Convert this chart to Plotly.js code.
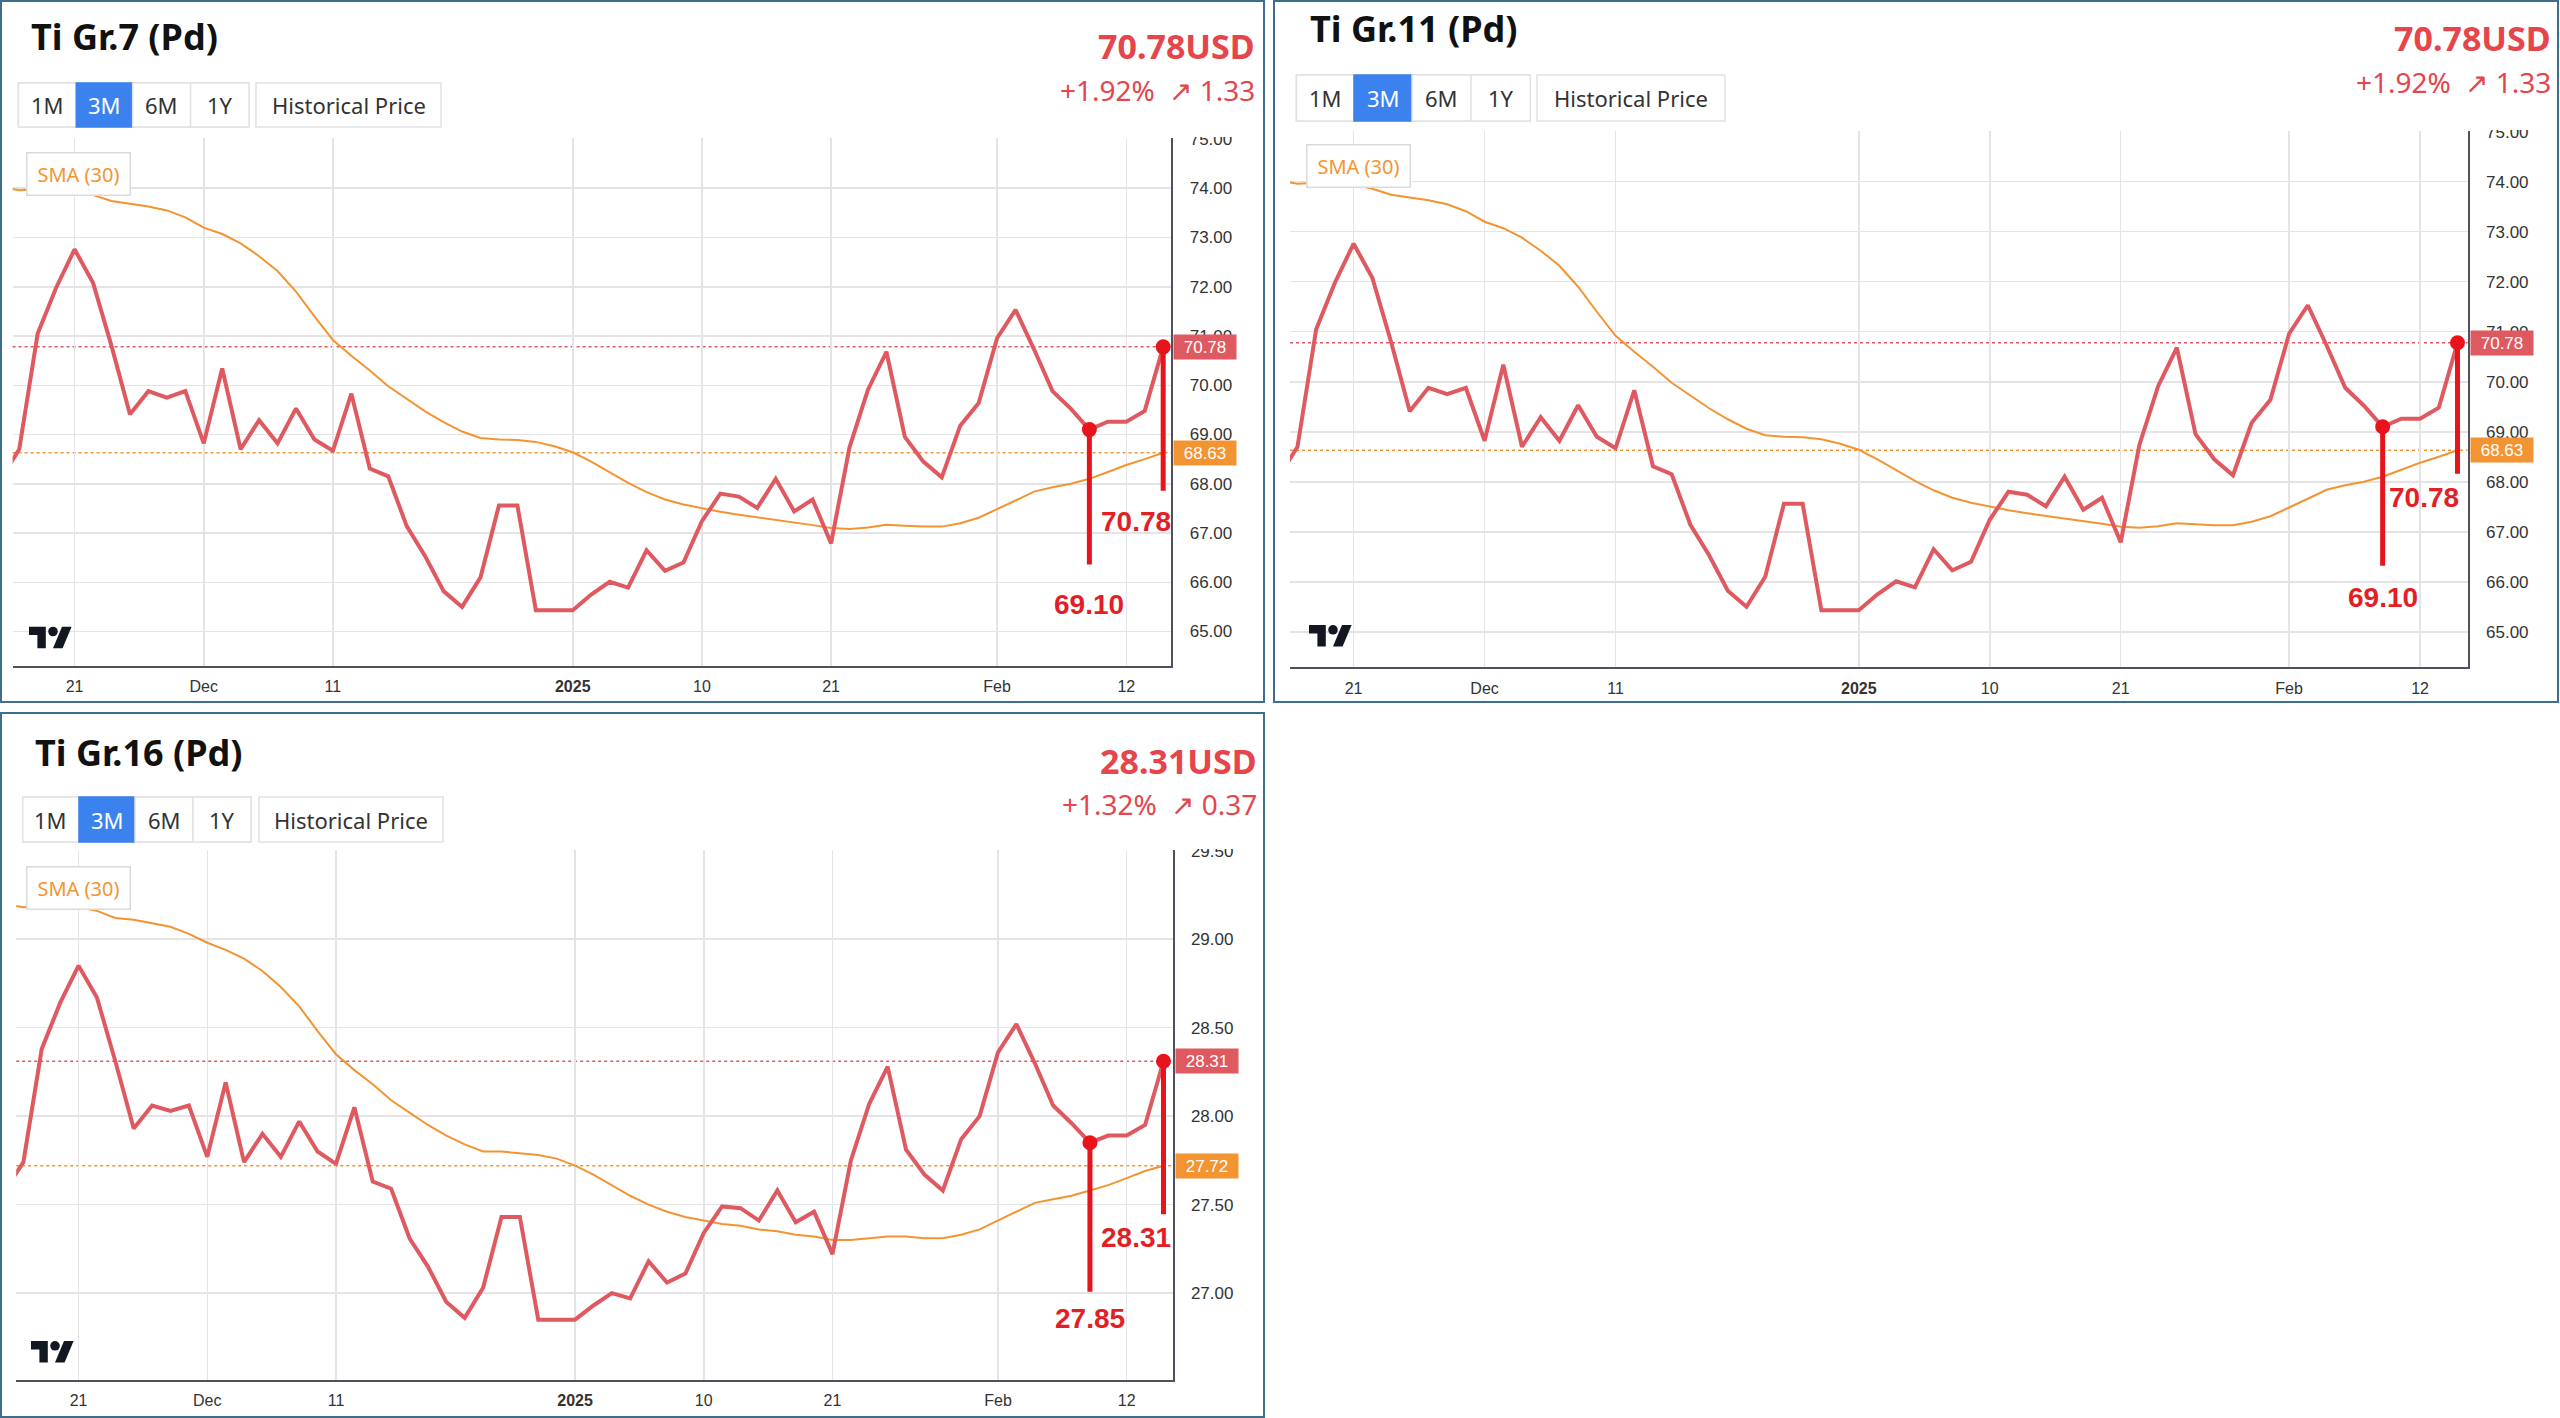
<!DOCTYPE html>
<html>
<head>
<meta charset="utf-8">
<script src="https://cdn.plot.ly/plotly-3.0.1.min.js"></script>
<style>
html,body{margin:0;padding:0;background:#ffffff;}
#chart{width:2560px;height:1418px;}
</style>
</head>
<body>
<div id="chart"></div>
<script>
// ---------------- DATA ----------------
const dates = ['Nov 15','Nov 18','Nov 19','Nov 20','Nov 21','Nov 22','Nov 25','Nov 26','Nov 27','Nov 28','Nov 29',
  'Dec 2','Dec 3','Dec 4','Dec 5','Dec 6','Dec 9','Dec 10','Dec 11','Dec 12','Dec 13','Dec 16','Dec 17','Dec 18','Dec 19','Dec 20','Dec 23','Dec 26','Dec 27','Dec 30','Dec 31',
  'Jan 1','Jan 2','Jan 3','Jan 6','Jan 7','Jan 8','Jan 9','Jan 10','Jan 13','Jan 14','Jan 15','Jan 16','Jan 17','Jan 20','Jan 21','Jan 22','Jan 23','Jan 24','Jan 27','Jan 28','Jan 29','Jan 30','Jan 31',
  'Feb 3','Feb 4','Feb 5','Feb 6','Feb 7','Feb 10','Feb 11','Feb 12','Feb 13','Feb 14'];

const tickDates  = ['Nov 21','Dec 2','Dec 11','Jan 1','Jan 10','Jan 21','Feb 3','Feb 12'];
const tickLabels = ['21','Dec','11','<b>2025</b>','10','21','Feb','12'];
const markDates  = ['Feb 10','Feb 14'];

const titles = ['Ti Gr.7 (Pd)','Ti Gr.11 (Pd)','Ti Gr.16 (Pd)'];
const changePct = [1.92, 1.92, 1.32];
const changeAbs = [1.33, 1.33, 0.37];
const smaLabel = 'SMA (30)';
const rangeButtons = ['1M','3M','6M','1Y'];
const historyButton = 'Historical Price';

const gr7Price = [68.10,68.70,71.05,71.98,72.76,72.08,70.80,69.41,69.88,69.75,69.88,68.82,70.34,68.70,69.29,68.82,69.53,68.90,68.67,69.83,
  68.31,68.15,67.14,66.53,65.82,65.50,66.10,67.56,67.56,65.43,65.43,65.43,65.75,66.01,65.89,66.65,66.23,66.40,67.24,67.80,
  67.74,67.51,68.10,67.44,67.68,66.79,68.74,69.91,70.68,68.95,68.45,68.13,69.18,69.64,70.96,71.53,70.73,69.88,69.52,69.10,
  69.26,69.26,69.48,70.78];
const gr7Sma = [74.02,73.96,73.98,73.98,73.95,73.86,73.74,73.68,73.63,73.55,73.41,73.20,73.07,72.88,72.62,72.32,71.90,71.40,70.92,70.60,
  70.30,69.98,69.72,69.47,69.25,69.06,68.93,68.90,68.89,68.85,68.76,68.64,68.45,68.24,68.02,67.83,67.68,67.58,67.50,67.43,
  67.37,67.32,67.27,67.21,67.16,67.10,67.08,67.11,67.17,67.15,67.13,67.13,67.20,67.31,67.48,67.66,67.84,67.93,68.00,68.10,
  68.24,68.38,68.50,68.63];

const gr11Price = [68.10,68.70,71.05,71.98,72.76,72.08,70.80,69.41,69.88,69.75,69.88,68.82,70.34,68.70,69.29,68.82,69.53,68.90,68.67,69.83,
  68.31,68.15,67.14,66.53,65.82,65.50,66.10,67.56,67.56,65.43,65.43,65.43,65.75,66.01,65.89,66.65,66.23,66.40,67.24,67.80,
  67.74,67.51,68.10,67.44,67.68,66.79,68.74,69.91,70.68,68.95,68.45,68.13,69.18,69.64,70.96,71.53,70.73,69.88,69.52,69.10,
  69.26,69.26,69.48,70.78];
const gr11Sma = [74.02,73.96,73.98,73.98,73.95,73.86,73.74,73.68,73.63,73.55,73.41,73.20,73.07,72.88,72.62,72.32,71.90,71.40,70.92,70.60,
  70.30,69.98,69.72,69.47,69.25,69.06,68.93,68.90,68.89,68.85,68.76,68.64,68.45,68.24,68.02,67.83,67.68,67.58,67.50,67.43,
  67.37,67.32,67.27,67.21,67.16,67.10,67.08,67.11,67.17,67.15,67.13,67.13,67.20,67.31,67.48,67.66,67.84,67.93,68.00,68.10,
  68.24,68.38,68.50,68.63];

const gr16Price = [27.58,27.74,28.38,28.64,28.85,28.67,28.31,27.93,28.06,28.03,28.06,27.77,28.19,27.74,27.90,27.77,27.97,27.80,27.73,28.05,
  27.63,27.59,27.31,27.15,26.95,26.86,27.03,27.43,27.43,26.85,26.85,26.85,26.93,27.00,26.97,27.18,27.06,27.11,27.34,27.49,
  27.48,27.41,27.58,27.40,27.46,27.22,27.75,28.07,28.28,27.81,27.67,27.58,27.87,28.00,28.36,28.52,28.30,28.06,27.96,27.85,
  27.89,27.89,27.95,28.31];
const gr16Sma = [29.20,29.18,29.19,29.19,29.18,29.16,29.12,29.11,29.09,29.07,29.03,28.98,28.94,28.89,28.82,28.73,28.62,28.48,28.35,28.26,
  28.18,28.09,28.02,27.95,27.89,27.84,27.80,27.80,27.79,27.78,27.76,27.72,27.67,27.61,27.55,27.50,27.46,27.43,27.41,27.39,
  27.38,27.36,27.35,27.33,27.32,27.30,27.30,27.31,27.32,27.32,27.31,27.31,27.33,27.36,27.41,27.46,27.51,27.53,27.55,27.58,
  27.61,27.65,27.69,27.72];

const prices = [gr7Price, gr11Price, gr16Price];
const smas = [gr7Sma, gr11Sma, gr16Sma];

// ---------------- LAYOUT (pixel geometry of each panel) ----------------
const W = 2560, H = 1418;
const px = v => v / W;
const py = v => 1 - v / H;

const geo = [
  { box:[1,1,1264,702], title:[29,37], btnTop:83, btnBot:127, btnEdges:[18.4,76.3,132.7,190.6,249], hp:[256,441],
    price:[1257,46], change:[1257,90], plot:{l:12.6,r:1171.3,t:138,b:666}, xr:[0.64,63.44], yr:[64.30,75.02], dtick:1,
    sma:[26,152], logo:[29,626.7], lineLen:[135,144], textOff:[175,175], textShift:[0,10], cut:137 },
  { box:[1274,1,2558,702], title:[1308,29], btnTop:75, btnBot:121, btnEdges:[1296.4,1354,1412,1471,1530.3], hp:[1537,1725],
    price:[2553,38], change:[2553,82], plot:{l:1290,r:2467.6,t:131,b:667.3}, xr:[0.6,63.54], yr:[64.29,75.014], dtick:1,
    sma:[1306,144], logo:[1309,625], lineLen:[139,131], textOff:[171,155], textShift:[0,3], cut:130 },
  { box:[1,713,1264,1417], title:[32.5,753], btnTop:797, btnBot:842, btnEdges:[22.7,79,135,193,251], hp:[259,443],
    price:[1259,761], change:[1259,804], plot:{l:16.2,r:1172.5,t:850,b:1379.8}, xr:[0.61,63.49], yr:[26.51,29.504], dtick:0.5,
    sma:[26,866], logo:[31,1341], lineLen:[149,153], textOff:[176,176], textShift:[0,10], cut:849 }
];

const RED_LINE = '#df5a60', ORANGE = '#f39433', MARK = '#e8141b', PRICE_RED = '#e5454b';
const GRID = '#e4e4e6', AXIS = '#4f525c', BORDER = '#3d6f8c', BLUE = '#3b82ef';

const data = [];
const shapes = [];
const annotations = [];
const layout = {
  width: W, height: H, margin:{l:0,r:0,t:0,b:0},
  paper_bgcolor:'#ffffff', plot_bgcolor:'rgba(0,0,0,0)',
  showlegend:false, font:{family:'Noto Sans', color:'#222'},
  shapes: shapes, annotations: annotations
};

function rect(x0,y0,x1,y1,opt){
  return Object.assign({type:'rect', xref:'paper', yref:'paper', x0:px(x0), x1:px(x1), y0:py(y1), y1:py(y0)}, opt);
}
function txt(text, x, y, opt){
  return Object.assign({text:text, xref:'paper', yref:'paper', x:px(x), y:py(y), showarrow:false, yanchor:'middle'}, opt);
}

geo.forEach((g,k) => {
  const s = k === 0 ? '' : String(k+1);
  const xa = 'x'+s, ya = 'y'+s;
  const price = prices[k], sma = smas[k];
  const last = price[price.length-1];
  const smaLast = sma[sma.length-1];
  const markIdx = markDates.map(d => dates.indexOf(d));

  // traces
  data.push({type:'scatter', x:dates, y:sma, mode:'lines', line:{color:ORANGE, width:2}, xaxis:xa, yaxis:ya, hoverinfo:'skip'});
  data.push({type:'scatter', x:dates, y:price, mode:'lines', line:{color:RED_LINE, width:4}, xaxis:xa, yaxis:ya, hoverinfo:'skip'});
  data.push({type:'scatter', x:markDates, y:markIdx.map(i=>price[i]), mode:'markers', marker:{size:15, color:MARK}, xaxis:xa, yaxis:ya, hoverinfo:'skip'});

  // axes
  layout['xaxis'+s] = {
    domain:[px(g.plot.l), px(g.plot.r)], anchor:ya, type:'category', range:g.xr,
    tickmode:'array', tickvals:tickDates, ticktext:tickLabels,
    showgrid:true, gridcolor:GRID, gridwidth:1.5, showline:true, linecolor:AXIS, linewidth:2,
    ticks:'', ticklabelstandoff:5, tickfont:{family:'Liberation Sans', size:16, color:'#333'},
    zeroline:false, fixedrange:true
  };
  layout['yaxis'+s] = {
    domain:[py(g.plot.b), py(g.plot.t)], anchor:xa, side:'right', range:g.yr,
    tick0:0, dtick:g.dtick, tickformat:'.2f',
    showgrid:true, gridcolor:GRID, gridwidth:1.5, showline:true, linecolor:AXIS, linewidth:2,
    ticks:'', ticklabelstandoff:13, tickfont:{family:'Liberation Sans', size:17, color:'#333'},
    zeroline:false, fixedrange:true
  };

  // panel border
  shapes.push(rect(g.box[0], g.box[1], g.box[2], g.box[3], {line:{color:BORDER, width:2}, fillcolor:'rgba(0,0,0,0)', layer:'below'}));

  // dotted price lines
  shapes.push({type:'line', xref:xa+' domain', yref:ya, x0:0, x1:1, y0:last, y1:last, line:{color:RED_LINE, width:1.5, dash:'dot'}, layer:'below'});
  shapes.push({type:'line', xref:xa+' domain', yref:ya, x0:0, x1:1, y0:smaLast, y1:smaLast, line:{color:ORANGE, width:1.5, dash:'dot'}, layer:'below'});

  // vertical callout lines from the highlighted points
  markIdx.forEach((i,j) => {
    shapes.push({type:'line', xref:xa, yref:ya, x0:i, x1:i, ysizemode:'pixel', yanchor:price[i], y0:0, y1:-g.lineLen[j],
      line:{color:MARK, width:5}, layer:'above'});
    annotations.push({text:price[i].toFixed(2), xref:xa, yref:ya, x:i, y:price[i], yshift:-g.textOff[j], xshift:g.textShift[j],
      xanchor: j === 1 ? 'right' : 'center', yanchor:'middle', showarrow:false,
      font:{family:'Liberation Sans', size:28, color:'#e31e24', weight:700}});
  });

  // cover top half of the clipped top tick label
  shapes.push(rect(g.plot.r+2, g.cut-26, g.plot.r+88, g.cut, {line:{width:0}, fillcolor:'#ffffff', layer:'above'}));

  // price tags on the axis
  annotations.push({text:last.toFixed(2), xref:'paper', yref:ya, x:px(g.plot.r+2), y:last, xanchor:'left', yanchor:'middle',
    showarrow:false, bgcolor:RED_LINE, width:58, height:20, borderpad:2, align:'center',
    font:{family:'Liberation Sans', size:17, color:'#ffffff'}});
  annotations.push({text:smaLast.toFixed(2), xref:'paper', yref:ya, x:px(g.plot.r+2), y:smaLast, xanchor:'left', yanchor:'middle',
    showarrow:false, bgcolor:ORANGE, width:58, height:20, borderpad:2, align:'center',
    font:{family:'Liberation Sans', size:17, color:'#ffffff'}});

  // header texts
  annotations.push(txt(titles[k], g.title[0], g.title[1], {xanchor:'left', font:{family:'Noto Sans', size:36, color:'#111', weight:700}}));
  annotations.push(txt(last.toFixed(2)+'USD', g.price[0], g.price[1], {xanchor:'right', font:{family:'Noto Sans', size:34, color:PRICE_RED, weight:700}}));
  annotations.push(txt('+'+changePct[k].toFixed(2)+'%  ↗ '+changeAbs[k].toFixed(2), g.change[0], g.change[1], {xanchor:'right', font:{family:'Noto Sans', size:28, color:PRICE_RED}}));

  // range buttons
  const e = g.btnEdges;
  shapes.push(rect(e[0], g.btnTop, e[4], g.btnBot, {line:{color:'#e2e2e2', width:1.5}, fillcolor:'#ffffff', layer:'below'}));
  rangeButtons.forEach((b,i) => {
    const sel = b === '3M';
    shapes.push(rect(e[i], g.btnTop, e[i+1], g.btnBot, {line:{color: sel ? BLUE : '#e2e2e2', width:1.5}, fillcolor: sel ? BLUE : '#ffffff', layer:'below'}));
    annotations.push(txt(b, (e[i]+e[i+1])/2, (g.btnTop+g.btnBot)/2, {xanchor:'center', font:{family:'Noto Sans', size:22, color: sel ? '#ffffff' : '#333'}}));
  });
  shapes.push(rect(g.hp[0], g.btnTop, g.hp[1], g.btnBot, {line:{color:'#e2e2e2', width:1.5}, fillcolor:'#ffffff', layer:'below'}));
  annotations.push(txt(historyButton, (g.hp[0]+g.hp[1])/2, (g.btnTop+g.btnBot)/2, {xanchor:'center', font:{family:'Noto Sans', size:22, color:'#333'}}));

  // SMA legend box
  annotations.push(txt(smaLabel, g.sma[0], g.sma[1], {xanchor:'left', yanchor:'top', bgcolor:'#ffffff', bordercolor:'#dadada', borderwidth:1.5,
    borderpad:7, width:88, font:{family:'Noto Sans', size:20, color:ORANGE}}));

  // TradingView logo
  const lx = g.logo[0], ly = g.logo[1], sc = 1.2;
  const P = (a,b) => px(lx + a*sc).toFixed(5) + ',' + py(ly + (b-4)*sc).toFixed(5);
  shapes.push({type:'path', xref:'paper', yref:'paper', layer:'above', fillcolor:'#131722', line:{width:0},
    path:'M'+P(0,4)+' L'+P(14,4)+' L'+P(14,22)+' L'+P(7,22)+' L'+P(7,11)+' L'+P(0,11)+' Z'});
  shapes.push({type:'path', xref:'paper', yref:'paper', layer:'above', fillcolor:'#131722', line:{width:0},
    path:'M'+P(20,22)+' L'+P(28,22)+' L'+P(35.5,4)+' L'+P(27.5,4)+' Z'});
  shapes.push({type:'circle', xref:'paper', yref:'paper', layer:'above', fillcolor:'#131722', line:{width:0},
    x0:px(lx+16*sc), x1:px(lx+24*sc), y0:py(ly+8*sc), y1:py(ly)});
});

Plotly.newPlot('chart', data, layout, {staticPlot:true, displayModeBar:false});
</script>
</body>
</html>
